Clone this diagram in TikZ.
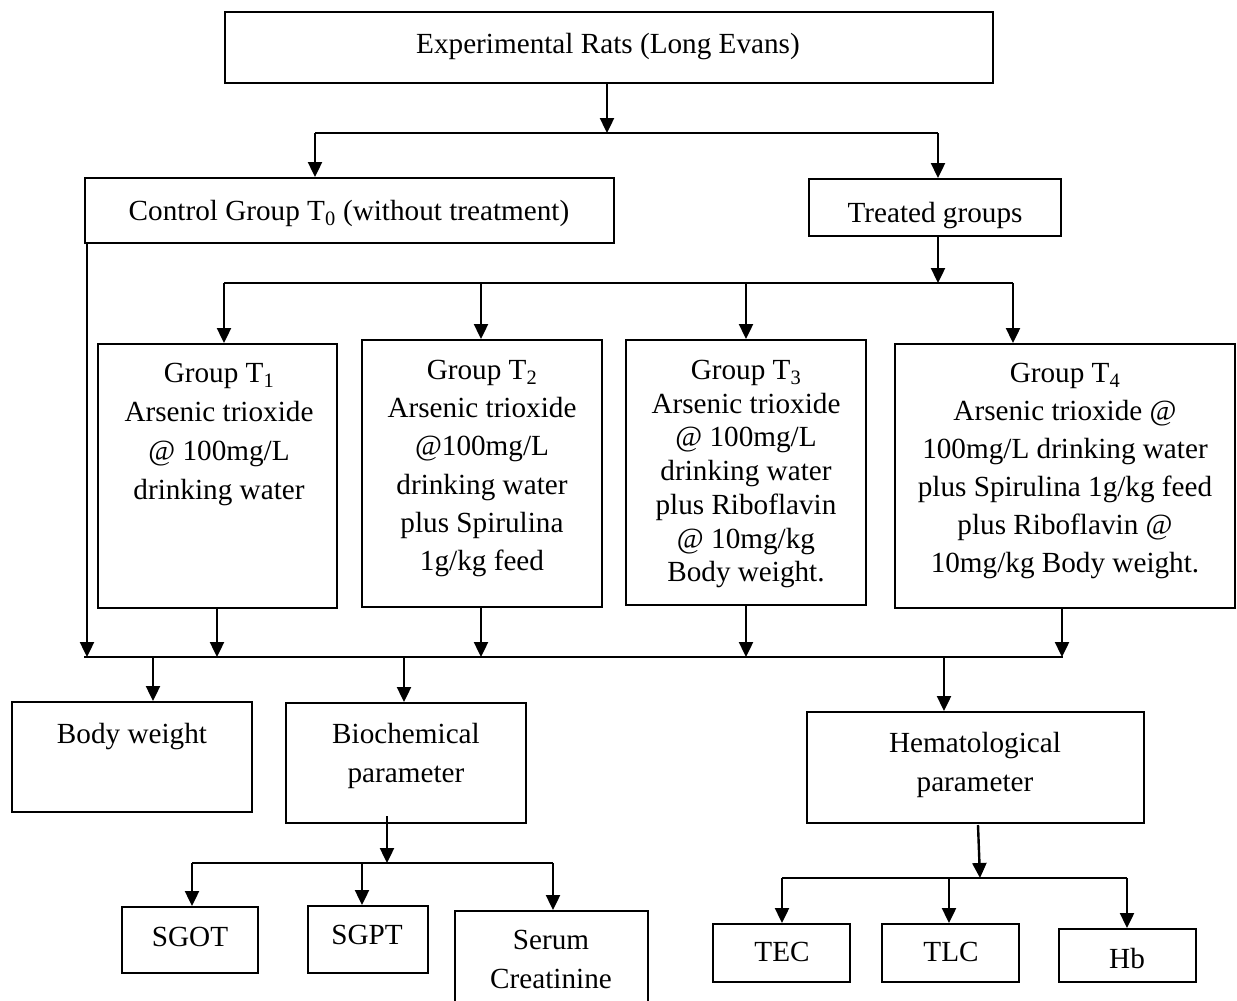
\documentclass[tikz,border=0pt]{standalone}
\usepackage{fontspec}
\setmainfont{Liberation Serif}
\usetikzlibrary{arrows.meta}
\begin{document}
\begin{tikzpicture}[x=1pt,y=-1pt,
  box/.style={draw,line width=2pt,inner sep=0pt,rectangle},
  txt/.style={inner sep=0pt,anchor=north,align=center,font=\fontsize{29.2}{39}\selectfont},
  conn/.style={line width=2.2pt},
  arr/.style={line width=2.4pt,-{Triangle[length=15pt,width=14pt]}}]
\useasboundingbox (0,0) rectangle (1237,1001);
\clip (0,0) rectangle (1237,1001);
% boxes
\node[box,minimum width=768,minimum height=71] (top) at (609,47.5) {};
\node[box,minimum width=529,minimum height=65] (ctrl) at (349.5,210.5) {};
\node[box,minimum width=252,minimum height=57] (treat) at (935,207.5) {};
\node[box,minimum width=239,minimum height=264] (t1) at (217.5,476) {};
\node[box,minimum width=240,minimum height=267] (t2) at (482,473.5) {};
\node[box,minimum width=240,minimum height=265] (t3) at (746,472.5) {};
\node[box,minimum width=340,minimum height=264] (t4) at (1065,476) {};
\node[box,minimum width=240,minimum height=110] (bw) at (132,757) {};
\node[box,minimum width=240,minimum height=120] (bio) at (406,763) {};
\node[box,minimum width=337,minimum height=111] (hem) at (975.5,767.5) {};
\node[box,minimum width=136,minimum height=66] (sgot) at (190,940) {};
\node[box,minimum width=120,minimum height=67] (sgpt) at (368,939.5) {};
\node[box,minimum width=193,minimum height=99] (serum) at (551.5,960.5) {};
\node[box,minimum width=137,minimum height=58] (tec) at (781.5,953) {};
\node[box,minimum width=137,minimum height=58] (tlc) at (950.5,953) {};
\node[box,minimum width=137,minimum height=53] (hb) at (1127.5,955.5) {};
% texts
\node[txt] (ttop) at (608,33) {Experimental Rats (Long Evans)};
\node[txt] (tctrl) at (349,200) {Control Group T\textsubscript{0} (without treatment)};
\node[txt] (ttreat) at (935,202) {Treated groups};
\node[txt] (tt1) at (219,363) {Group T\textsubscript{1}\\Arsenic trioxide\\@ 100mg/L\\drinking water};
\node[txt,font=\fontsize{29.2}{38.2}\selectfont] (tt2) at (482,360) {Group T\textsubscript{2}\\Arsenic trioxide\\@100mg/L\\drinking water\\plus Spirulina\\1g/kg feed};
\node[txt,font=\fontsize{29.2}{33.7}\selectfont] (tt3) at (746,360) {Group T\textsubscript{3}\\Arsenic trioxide\\@ 100mg/L\\drinking water\\plus Riboflavin\\@ 10mg/kg\\Body weight.};
\node[txt,font=\fontsize{29.2}{38}\selectfont] (tt4) at (1065,363) {Group T\textsubscript{4}\\Arsenic trioxide @\\100mg/L drinking water\\plus Spirulina 1g/kg feed\\plus Riboflavin @\\10mg/kg Body weight.};
\node[txt] (tbw) at (132,723) {Body weight};
\node[txt] (tbio) at (406,723) {Biochemical\\parameter};
\node[txt] (them) at (975,732) {Hematological\\parameter};
\node[txt] (tsgot) at (190,927) {SGOT};
\node[txt] (tsgpt) at (367,925) {SGPT};
\node[txt] (tserum) at (551,930) {Serum\\Creatinine};
\node[txt] (ttec) at (782,942) {TEC};
\node[txt] (ttlc) at (951,942) {TLC};
\node[txt] (thb) at (1127,948) {Hb};
% junction coordinates
\coordinate (j1) at (607,133);
\coordinate (s1) at (315,133);
\coordinate (s2) at (938,133);
\coordinate (g0) at (938,283);
\coordinate (g1) at (224,283);
\coordinate (g2) at (481,283);
\coordinate (g3) at (746,283);
\coordinate (g4) at (1013,283);
\coordinate (bl) at (84,657);
\coordinate (br) at (1063,657);
\coordinate (c0) at (87,657);
\coordinate (c1) at (217,657);
\coordinate (c2) at (481,657);
\coordinate (c3) at (746,657);
\coordinate (c4) at (1062,657);
\coordinate (d1) at (153,657);
\coordinate (d2) at (404,657);
\coordinate (d3) at (944,657);
\coordinate (bs) at (387,816);
\coordinate (bj) at (387,863);
\coordinate (b1) at (192,863);
\coordinate (b2) at (362,863);
\coordinate (b3) at (553,863);
\coordinate (hs) at (978,825);
\coordinate (hj) at (980,878);
\coordinate (h1) at (782,878);
\coordinate (h2) at (949,878);
\coordinate (h3) at (1127,878);
% connectors
\draw[arr] (top.south -| j1) -- (j1);
\draw[conn] (s1) -- (s2);
\draw[arr] (s1) -- (s1 |- ctrl.north);
\draw[arr] (s2) -- (s2 |- treat.north);
\draw[arr] (treat.south -| g0) -- (g0);
\draw[conn] (g1) -- (g4);
\draw[arr] (g1) -- (g1 |- t1.north);
\draw[arr] (g2) -- (g2 |- t2.north);
\draw[arr] (g3) -- (g3 |- t3.north);
\draw[arr] (g4) -- (g4 |- t4.north);
\draw[conn] (bl) -- (br);
\draw[arr] (ctrl.south -| c0) -- (c0);
\draw[arr] (t1.south -| c1) -- (c1);
\draw[arr] (t2.south -| c2) -- (c2);
\draw[arr] (t3.south -| c3) -- (c3);
\draw[arr] (t4.south -| c4) -- (c4);
\draw[arr] (d1) -- (d1 |- bw.north);
\draw[arr] (d2) -- (d2 |- bio.north);
\draw[arr] (d3) -- (d3 |- hem.north);
\draw[arr] (bs) -- (bj);
\draw[conn] (b1) -- (b3);
\draw[arr] (b1) -- (b1 |- sgot.north);
\draw[arr] (b2) -- (b2 |- sgpt.north);
\draw[arr] (b3) -- (b3 |- serum.north);
\draw[arr] (hs) -- (hj);
\draw[conn] (h1) -- (h3);
\draw[arr] (h1) -- (h1 |- tec.north);
\draw[arr] (h2) -- (h2 |- tlc.north);
\draw[arr] (h3) -- (h3 |- hb.north);
\end{tikzpicture}
\end{document}
